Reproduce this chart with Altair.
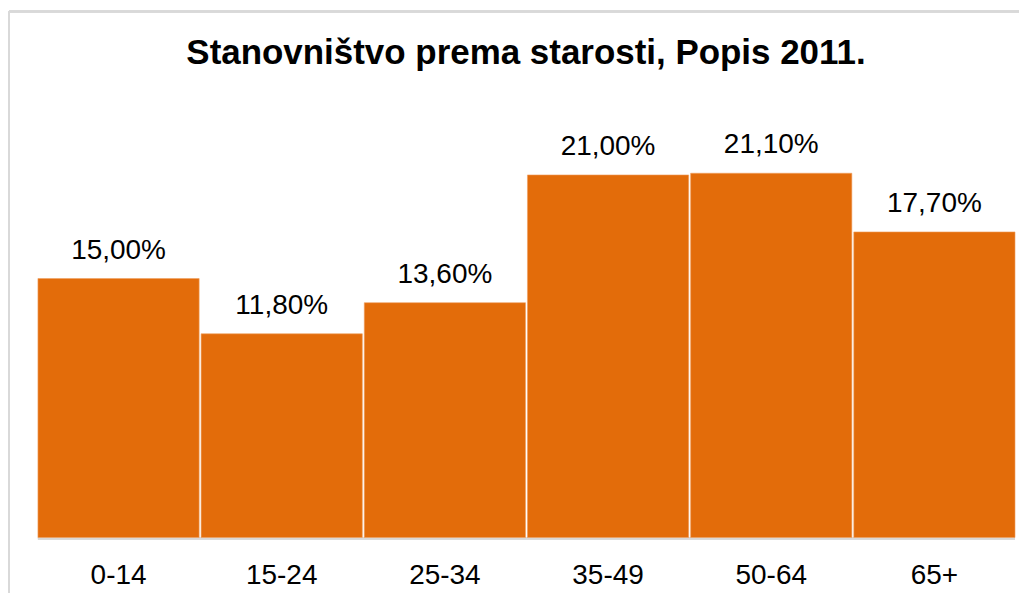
import altair as alt
import pandas as pd

categories = ["0-14", "15-24", "25-34", "35-49", "50-64", "65+"]
values = [15.00, 11.80, 13.60, 21.00, 21.10, 17.70]
labels = ["15,00%", "11,80%", "13,60%", "21,00%", "21,10%", "17,70%"]
title_text = "Stanovništvo prema starosti, Popis 2011."

df = pd.DataFrame({"cat": categories, "val": values, "lab": labels})

FONT = "Liberation Sans"
x_scale = alt.Scale(domain=categories, range=[29, 1008], paddingInner=0.012, paddingOuter=0)
y_scale = alt.Scale(domain=[0, 25], range=[527, 527 - 17.3 * 25])

base = alt.Chart(df)
xenc = alt.X("cat:N", scale=x_scale, axis=None, sort=categories)
yenc = alt.Y("val:Q", scale=y_scale, axis=None)

bars = base.mark_bar(color="#E36C0A", stroke="#F0A060", strokeWidth=0.6).encode(x=xenc, y=yenc)

vals = base.mark_text(font=FONT, fontSize=28, color="#000000", baseline="alphabetic", dy=-20).encode(
    x=xenc, y=yenc, text="lab:N"
)

xlabels = base.mark_text(font=FONT, fontSize=28, color="#000000", baseline="middle").encode(
    x=xenc, y=alt.value(566), text="cat:N"
)

baseline = base.mark_rule(color="#D9D9D9", strokeWidth=2).encode(
    x=alt.value(29), x2=alt.value(1008), y=alt.value(528)
)

border_top = base.mark_rule(color="#D9D9D9", strokeWidth=2).encode(
    x=alt.value(0), x2=alt.value(1012), y=alt.value(0)
)
border_left = base.mark_rule(color="#D9D9D9", strokeWidth=2).encode(
    x=alt.value(0), y=alt.value(0), y2=alt.value(582)
)

title = alt.Chart(pd.DataFrame({"t": [title_text]})).mark_text(
    font=FONT, fontSize=35, fontWeight="bold", color="#000000", baseline="middle"
).encode(x=alt.value(518), y=alt.value(42), text="t:N")

chart = alt.layer(border_top, border_left, baseline, bars, vals, xlabels, title).properties(
    width=1012, height=582,
    padding={"left": 0, "top": 2, "right": 0, "bottom": 0},
).configure_view(stroke=None)

chart.save("out.html", embed_options={"renderer": "svg", "actions": False})
